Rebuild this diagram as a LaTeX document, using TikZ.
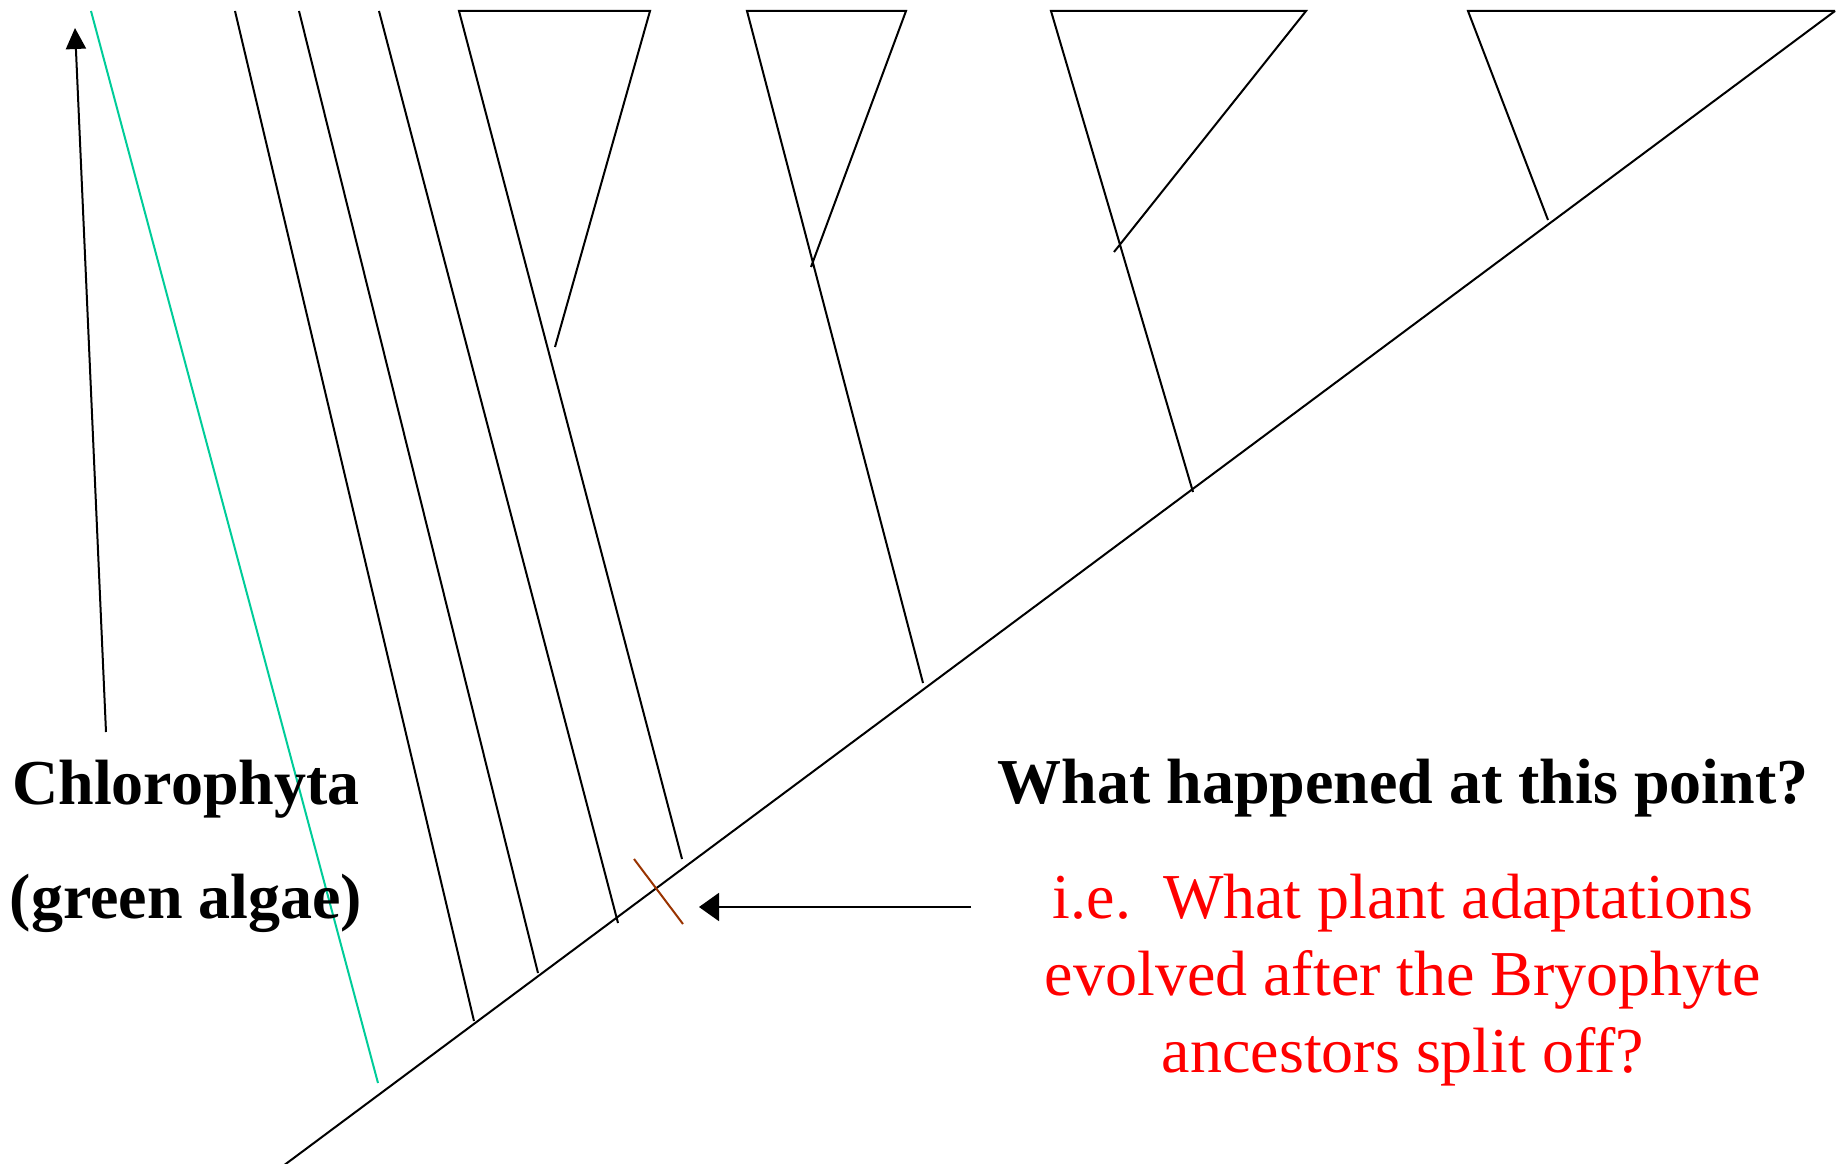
\documentclass[tikz,border=0pt]{standalone}
\usepackage{fontspec}
\setmainfont{Liberation Serif}
\usetikzlibrary{arrows.meta}
\definecolor{algaegreen}{RGB}{0,204,153}
\definecolor{crossbrown}{RGB}{153,51,0}
\definecolor{askred}{RGB}{255,0,0}
\begin{document}
\begin{tikzpicture}[x=1pt,y=-1pt,
  branch/.style={line width=2pt, black},
  greenbranch/.style={line width=2pt, algaegreen},
  crossmark/.style={line width=2pt, crossbrown},
  pointer/.style={line width=2pt, black},
  labeltext/.style={anchor=base, inner sep=0pt, font=\fontsize{64}{77}\selectfont},
  boldlabel/.style={labeltext, font=\fontsize{64}{77}\selectfont\bfseries},
  redlabel/.style={labeltext, text=askred}
]
\useasboundingbox (0,0) rectangle (1848,1164);
% main trunk
\coordinate (root) at (283,1166);
\coordinate (apex) at (1835,11);
\draw[branch] (root) -- (apex);
% green algae branch
\coordinate (gtop) at (91,11);
\coordinate (gbot) at (378,1083);
\draw[greenbranch] (gtop) -- (gbot);
% single lineages
\coordinate (aTop) at (235,11);  \coordinate (aBot) at (474,1021);
\coordinate (bTop) at (299,11);  \coordinate (bBot) at (538,973);
\coordinate (cTop) at (379,11);  \coordinate (cBot) at (618,923);
\draw[branch] (aTop) -- (aBot);
\draw[branch] (bTop) -- (bBot);
\draw[branch] (cTop) -- (cBot);
% triangle 1
\coordinate (t1L) at (459,11); \coordinate (t1R) at (650,11);
\coordinate (t1E) at (555,347); \coordinate (t1B) at (682,859);
\draw[branch] (t1E) -- (t1R) -- (t1L) -- (t1B);
% triangle 2
\coordinate (t2L) at (747,11); \coordinate (t2R) at (906,11);
\coordinate (t2E) at (811,267); \coordinate (t2B) at (923,683);
\draw[branch] (t2E) -- (t2R) -- (t2L) -- (t2B);
% triangle 3
\coordinate (t3L) at (1051,11); \coordinate (t3R) at (1306,11);
\coordinate (t3E) at (1114,252); \coordinate (t3B) at (1193,492);
\draw[branch] (t3E) -- (t3R) -- (t3L) -- (t3B);
% triangle 4
\coordinate (t4L) at (1468,11); \coordinate (t4B) at (1548,220);
\draw[branch] (apex) -- (t4L) -- (t4B);
% cross mark
\coordinate (xA) at (634,859); \coordinate (xB) at (683,924);
\draw[crossmark] (xA) -- (xB);
% arrows
\coordinate (upTail) at (106,732); \coordinate (upTip) at (75,28);
\draw[pointer,-{Triangle[length=21pt,width=20pt]}] (upTail) -- (upTip);
\coordinate (hTail) at (971,907); \coordinate (hTip) at (699,907);
\draw[pointer,-{Triangle[length=20pt,width=28pt]}] (hTail) -- (hTip);
% labels
\node[boldlabel] (chl1) at (186,804) {Chlorophyta};
\node[boldlabel] (chl2) at (186,918) {(green algae)};
\node[boldlabel] (q1) at (1403,803) {What happened at this point?};
\node[redlabel] (r1) at (1403,918) {i.e.\ \ What plant adaptations};
\node[redlabel] (r2) at (1403,995) {evolved after the Bryophyte};
\node[redlabel] (r3) at (1403,1072) {ancestors split off?};
\end{tikzpicture}
\end{document}
